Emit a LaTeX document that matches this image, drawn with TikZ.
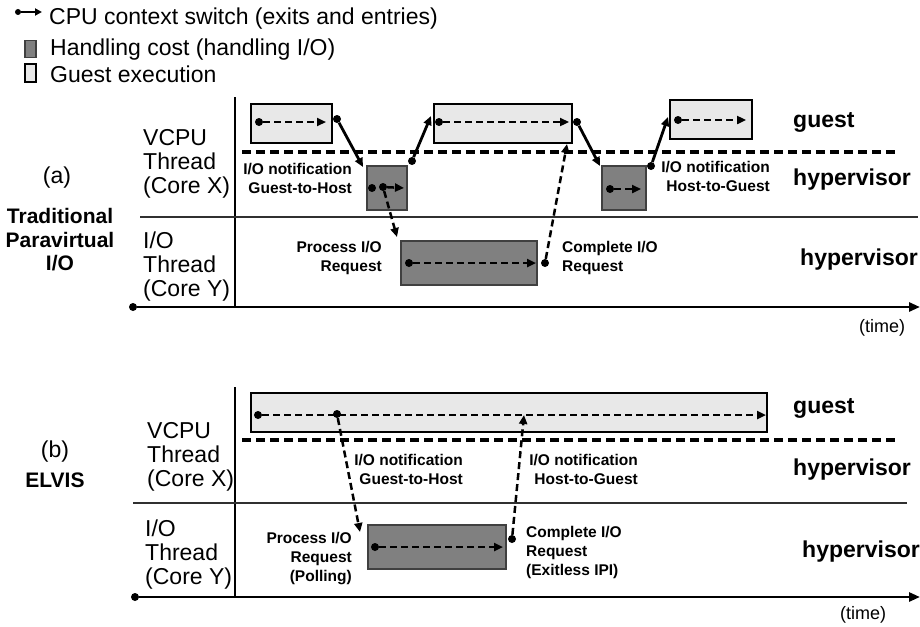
\documentclass[tikz,border=0pt]{standalone}
\usepackage{fontspec}
\setmainfont{Liberation Sans}
\usetikzlibrary{arrows.meta}
\definecolor{gexec}{HTML}{E8E8E8}
\definecolor{hcost}{HTML}{808080}
\definecolor{boxedge}{HTML}{404040}
\definecolor{thinline}{HTML}{303030}
\begin{document}
\begin{tikzpicture}[x=1pt,y=-1pt,
 dotn/.style={circle,fill=black,inner sep=0pt,minimum size=8pt},
 gbox/.style={draw=black,line width=1.1pt,fill=gexec,inner sep=0pt},
 hbox/.style={draw=boxedge,line width=1.3pt,fill=hcost,inner sep=0pt},
 darr/.style={line width=2.5pt,dash pattern=on 7pt off 4pt,-{Triangle[length=9pt,width=8pt]}},
 sarr/.style={line width=2.8pt,-{Triangle[length=9pt,width=8pt]}},
 sepl/.style={line width=3.2pt,dash pattern=on 9pt off 5pt},
 axisl/.style={line width=2.7pt,-{Triangle[length=11pt,width=9pt]}},
 txt/.style={font=\fontsize{23}{24}\selectfont,inner sep=0pt},
 big/.style={font=\bfseries\fontsize{23}{24}\selectfont,inner sep=0pt},
 sm/.style={font=\bfseries\fontsize{15.5}{19}\selectfont,inner sep=0pt},
 side/.style={font=\bfseries\fontsize{21}{23.5}\selectfont,inner sep=0pt,align=center},
 timel/.style={font=\fontsize{18}{20}\selectfont,inner sep=0pt},
]
\useasboundingbox (0,0) rectangle (920,626);

% ---------- legend ----------
\node[dotn,minimum size=6pt] (ld) at (18,12) {};
\coordinate (le) at (42,12);
\draw[line width=2pt,-{Triangle[length=7pt,width=7pt]}] (ld) -- (le);
\node[hbox,minimum width=11pt,minimum height=17pt] (lh) at (30.5,49) {};
\node[gbox,minimum width=11pt,minimum height=18pt] (lg) at (30.5,73) {};
\node[txt,anchor=base west] (lt1) at (49,25) {CPU context switch (exits and entries)};
\node[txt,anchor=base west] (lt2) at (50,56) {Handling cost (handling I/O)};
\node[txt,anchor=base west] (lt3) at (50,82) {Guest execution};

% ---------- panel (a) frame ----------
\coordinate (va0) at (235,97); \coordinate (va1) at (235,307);
\draw[line width=1.6pt] (va0) -- (va1);
\coordinate (ha0) at (140,217); \coordinate (ha1) at (918,217);
\draw[line width=1.3pt,thinline] (ha0) -- (ha1);
\coordinate (sa0) at (242,152); \coordinate (sa1) at (897,152);
\draw[sepl] (sa0) -- (sa1);
\node[dotn] (axa0) at (133,307) {};
\coordinate (axa1) at (920,307);
\draw[axisl] (axa0) -- (axa1);

% labels (a)
\node[txt] (la) at (57,178) {(a)};
\node[side] (tpa) at (60,240) {Traditional\\Paravirtual\\I/O};
\node[txt,anchor=west,align=left] (vcpua) at (143,164) {VCPU\\Thread\\(Core X)};
\node[txt,anchor=west,align=left] (ioa) at (143,267) {I/O\\Thread\\(Core Y)};
\node[big,anchor=west] (gsta) at (793,122) {guest};
\node[big,anchor=west] (hypa1) at (793,180) {hypervisor};
\node[big,anchor=west] (hypa2) at (800,260) {hypervisor};
\node[timel] (tima) at (882,328) {(time)};
\node[sm,anchor=east,align=right] (n1a) at (352,178) {I/O notification\\Guest-to-Host};
\node[sm,anchor=east,align=right] (n2a) at (770,176) {I/O notification\\Host-to-Guest};
\node[sm,anchor=east,align=right] (pra) at (382,258) {Process I/O\\Request};
\node[sm,anchor=west,align=left] (cra) at (562,258) {Complete I/O\\Request};

% boxes (a)
\node[gbox,minimum width=81pt,minimum height=39pt] (g1) at (291.5,123.5) {};
\node[hbox,minimum width=40pt,minimum height=44pt] (h1) at (387,188) {};
\node[gbox,minimum width=138pt,minimum height=39pt] (g2) at (503,123.5) {};
\node[hbox,minimum width=136pt,minimum height=44pt] (io1) at (469,263) {};
\node[hbox,minimum width=44pt,minimum height=44pt] (h2) at (624,188) {};
\node[gbox,minimum width=82pt,minimum height=39pt] (g3) at (711,119.5) {};

% flows (a)
\node[dotn] (d1) at (259,122) {}; \coordinate (e1) at (326,122);
\draw[darr] (d1) -- (e1);
\node[dotn] (c1) at (337,119) {}; \coordinate (f1) at (363,167);
\draw[sarr] (c1) -- (f1);
\node[dotn] (d2) at (372,188) {};
\node[dotn] (c2) at (383,187) {}; \coordinate (e2) at (404,188);
\draw[darr] (c2) -- (e2);
\coordinate (f2) at (397,237);
\draw[darr] (c2) -- (f2);
\node[dotn] (c3) at (412,161) {}; \coordinate (f3) at (431,116);
\draw[sarr] (c3) -- (f3);
\node[dotn] (d3) at (439,122) {}; \coordinate (e3) at (569,122);
\draw[darr] (d3) -- (e3);
\node[dotn] (d4) at (409,263) {}; \coordinate (e4) at (536,263);
\draw[darr] (d4) -- (e4);
\node[dotn] (c4) at (545,263) {}; \coordinate (f4) at (567,144);
\draw[darr] (c4) -- (f4);
\node[dotn] (c5) at (577,122) {}; \coordinate (f5) at (600,166);
\draw[sarr] (c5) -- (f5);
\node[dotn] (d5) at (610,189) {}; \coordinate (e5) at (641,189);
\draw[darr] (d5) -- (e5);
\node[dotn] (c6) at (651,166) {}; \coordinate (f6) at (668,117);
\draw[sarr] (c6) -- (f6);
\node[dotn] (d6) at (678,120) {}; \coordinate (e6) at (746,120);
\draw[darr] (d6) -- (e6);

% ---------- panel (b) frame ----------
\coordinate (vb0) at (235,387); \coordinate (vb1) at (235,597);
\draw[line width=1.6pt] (vb0) -- (vb1);
\coordinate (hb0) at (133,503); \coordinate (hb1) at (907,503);
\draw[line width=1.3pt,thinline] (hb0) -- (hb1);
\coordinate (sb0) at (242,440); \coordinate (sb1) at (898,440);
\draw[sepl] (sb0) -- (sb1);
\node[dotn] (axb0) at (135,597) {};
\coordinate (axb1) at (920,597);
\draw[axisl] (axb0) -- (axb1);

% labels (b)
\node[txt] (lb) at (55,452) {(b)};
\node[side] (elv) at (55,480) {ELVIS};
\node[txt,anchor=west,align=left] (vcpub) at (147,457) {VCPU\\Thread\\(Core X)};
\node[txt,anchor=west,align=left] (iob0) at (145,555) {I/O\\Thread\\(Core Y)};
\node[big,anchor=west] (gstb) at (793,408) {guest};
\node[big,anchor=west] (hypb1) at (793,470) {hypervisor};
\node[big,anchor=west] (hypb2) at (802,552) {hypervisor};
\node[timel] (timb) at (863,615) {(time)};
\node[sm,anchor=east,align=right] (n1b) at (463,469) {I/O notification\\Guest-to-Host};
\node[sm,anchor=east,align=right] (n2b) at (638,469) {I/O notification\\Host-to-Guest};
\node[sm,anchor=east,align=right] (prb) at (352,559) {Process I/O\\Request\\(Polling)};
\node[sm,anchor=west,align=left] (crb) at (526,552) {Complete I/O\\Request\\(Exitless IPI)};

% boxes (b)
\node[gbox,minimum width=516pt,minimum height=39pt] (gb) at (509,412.5) {};
\node[hbox,minimum width=138pt,minimum height=44pt] (iob) at (437,547) {};

% flows (b)
\node[dotn] (db1) at (258,415) {}; \coordinate (eb1) at (766,415);
\draw[darr] (db1) -- (eb1);
\node[dotn] (cb1) at (337,414) {}; \coordinate (fb1) at (360,532);
\draw[darr] (cb1) -- (fb1);
\node[dotn] (db2) at (375,547) {}; \coordinate (eb2) at (503,547);
\draw[darr] (db2) -- (eb2);
\node[dotn] (cb2) at (512,539) {}; \coordinate (fb2) at (524,415);
\draw[darr] (cb2) -- (fb2);
\end{tikzpicture}
\end{document}
